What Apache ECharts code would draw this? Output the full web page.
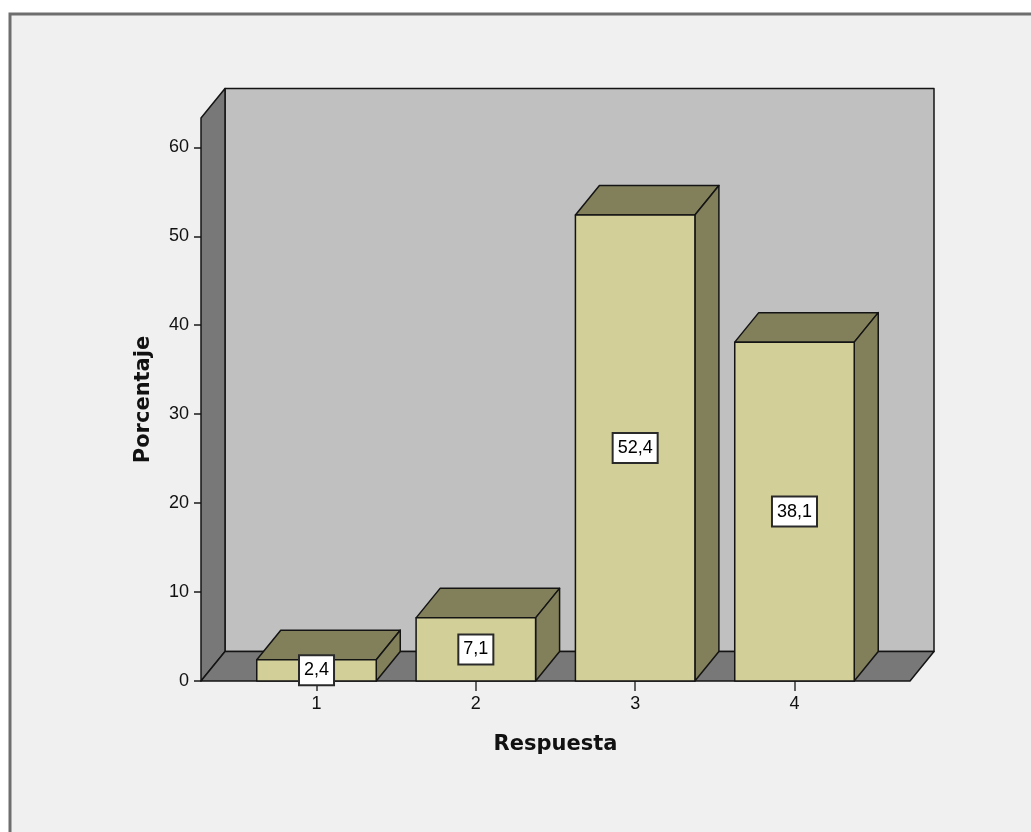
<!DOCTYPE html>
<html>
<head>
<meta charset="utf-8">
<title>Respuesta</title>
<script src="https://cdn.jsdelivr.net/npm/echarts@6/dist/echarts.min.js"></script>
<style>
  html, body { margin: 0; padding: 0; background: #ffffff; }
  #chart { width: 1031px; height: 832px; }
</style>
</head>
<body>
<div id="chart"></div>
<script>
// Answer categories and their percentages
const categories = ['1', '2', '3', '4'];
const percentages = [2.4, 7.1, 52.4, 38.1];
const yTicks = [0, 10, 20, 30, 40, 50, 60];
const xTicks = [1, 2, 3, 4];

// Depth offset of the pseudo-3D box and bars
const DX = 24;
const DY = -29.5;
const BAR_WIDTH = 0.75; // in category units

const EDGE = '#141414';
const FRONT = '#d3cf99';
const SHADE = '#827f5b';
const WALL_SIDE = '#787878';
const WALL_BACK = '#c0c0c0';

const chart = echarts.init(document.getElementById('chart'), null, { renderer: 'canvas' });

function fmt(v) {
  return v.toFixed(1).replace('.', ',');
}

// Back wall, left wall and floor of the chart box
function renderWalls(params, api) {
  const cs = params.coordSys;
  const gx = cs.x, gy = cs.y, gw = cs.width, gh = cs.height;
  const style = (fill) => ({ fill: fill, stroke: EDGE, lineWidth: 1.5, lineJoin: 'round' });
  return {
    type: 'group',
    children: [
      { type: 'rect', shape: { x: gx + DX, y: gy + DY, width: gw, height: gh }, style: style(WALL_BACK) },
      { type: 'polygon', shape: { points: [[gx, gy + gh], [gx, gy], [gx + DX, gy + DY], [gx + DX, gy + gh + DY]] }, style: style(WALL_SIDE) },
      { type: 'polygon', shape: { points: [[gx, gy + gh], [gx + DX, gy + gh + DY], [gx + gw + DX, gy + gh + DY], [gx + gw, gy + gh]] }, style: style(WALL_SIDE) }
    ]
  };
}

// One pseudo-3D bar with its value box
function renderBar(params, api) {
  const x = api.value(0);
  const v = api.value(1);
  const top = api.coord([x, v]);
  const base = api.coord([x, 0]);
  const w = api.size([BAR_WIDTH, 0])[0];
  const xl = top[0] - w / 2, xr = top[0] + w / 2;
  const yt = top[1], yb = base[1];
  const st = (fill) => ({ fill: fill, stroke: EDGE, lineWidth: 1.5, lineJoin: 'round' });
  return {
    type: 'group',
    children: [
      { type: 'polygon', shape: { points: [[xl, yt], [xl + DX, yt + DY], [xr + DX, yt + DY], [xr, yt]] }, style: st(SHADE) },
      { type: 'polygon', shape: { points: [[xr, yt], [xr + DX, yt + DY], [xr + DX, yb + DY], [xr, yb]] }, style: st(SHADE) },
      { type: 'rect', shape: { x: xl, y: yt, width: w, height: yb - yt }, style: st(FRONT) },
      {
        type: 'text',
        z2: 10,
        style: {
          text: fmt(v),
          x: top[0],
          y: (yt + yb) / 2,
          align: 'center',
          verticalAlign: 'middle',
          fontFamily: '"Liberation Sans", Arial, sans-serif',
          fontSize: 18,
          lineHeight: 21,
          fill: '#000',
          backgroundColor: '#ffffff',
          borderColor: '#2a2a2a',
          borderWidth: 2,
          padding: [4, 4, 3, 4]
        }
      }
    ]
  };
}

const labelFont = { fontFamily: '"Liberation Sans", Arial, sans-serif', fontSize: 18, color: '#111' };
const nameFont = { fontFamily: '"DejaVu Sans", Verdana, sans-serif', fontSize: 21, fontWeight: 'bold', color: '#111' };

chart.setOption({
  backgroundColor: '#ffffff',
  animation: false,
  graphic: [{
    type: 'rect',
    z: -100,
    silent: true,
    shape: { x: 10, y: 14, width: 1100, height: 900 },
    style: { fill: '#f0f0f0', stroke: '#6e6e6e', lineWidth: 3 }
  }],
  grid: { left: 201, right: 121, top: 118, bottom: 151 },
  xAxis: {
    type: 'value',
    min: 0.275,
    max: 4.725,
    name: 'Respuesta',
    nameLocation: 'middle',
    nameGap: 53,
    nameTextStyle: nameFont,
    axisLine: { show: false },
    splitLine: { show: false },
    axisTick: { show: true, length: 10, customValues: xTicks, lineStyle: { color: '#333', width: 1.5 } },
    axisLabel: Object.assign({
      margin: 14,
      customValues: xTicks,
      formatter: (val) => categories[Math.round(val) - 1]
    }, labelFont)
  },
  yAxis: {
    type: 'value',
    min: 0,
    max: 63.3,
    interval: 10,
    name: 'Porcentaje',
    nameLocation: 'middle',
    nameGap: 47,
    nameTextStyle: nameFont,
    axisLine: { show: false },
    splitLine: { show: false },
    axisTick: { show: true, length: 7, customValues: yTicks, lineStyle: { color: '#1a1a1a', width: 1.5 } },
    axisLabel: Object.assign({ margin: 12, customValues: yTicks }, labelFont)
  },
  series: [
    {
      type: 'custom',
      name: 'walls',
      clip: false,
      silent: true,
      z: 1,
      renderItem: renderWalls,
      data: [[0, 0]]
    },
    {
      type: 'custom',
      name: 'Porcentaje',
      clip: false,
      z: 3,
      renderItem: renderBar,
      encode: { x: 0, y: 1 },
      data: percentages.map((v, i) => [xTicks[i], v])
    }
  ]
});
</script>
</body>
</html>
